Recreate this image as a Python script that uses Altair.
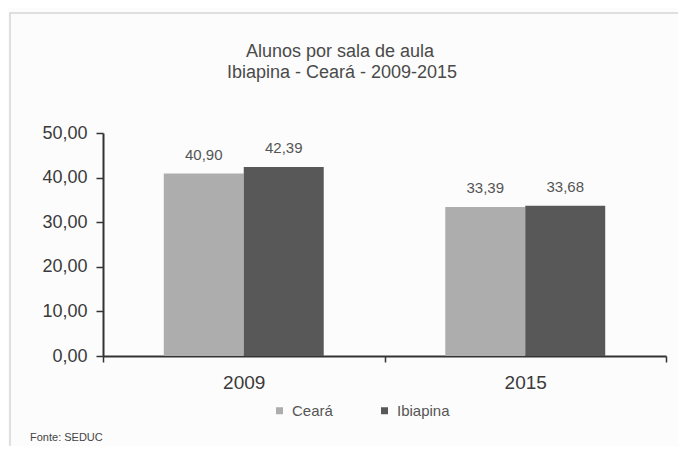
import altair as alt
import pandas as pd

anos = ["2009", "2009", "2015", "2015"]
series = ["Ceará", "Ibiapina", "Ceará", "Ibiapina"]
valores = [40.90, 42.39, 33.39, 33.68]
rotulos = ["40,90", "42,39", "33,39", "33,68"]
ordem_series = ["Ceará", "Ibiapina"]
cores = ["#adadad", "#585858"]
titulo = ["Alunos por sala de aula", "Ibiapina - Ceará - 2009-2015"]

df = pd.DataFrame({"ano": anos, "serie": series, "valor": valores, "rotulo": rotulos})

FONT = "Liberation Sans"

x_enc = alt.X(
    "ano:N",
    scale=alt.Scale(paddingInner=0, paddingOuter=0),
    axis=alt.Axis(
        title=None, labelAngle=0, tickBand="extent", labelFontSize=19,
        labelColor="#3a3a3a", labelPadding=11, tickSize=6, tickColor="#333",
        domainColor="#333", domainWidth=2, tickWidth=1.5, labelFont=FONT,
    ),
)
xoff = alt.XOffset("serie:N", sort=ordem_series,
                   scale=alt.Scale(paddingInner=0, paddingOuter=0.76))
y_enc = alt.Y(
    "valor:Q",
    scale=alt.Scale(domain=[0, 50], nice=False),
    axis=alt.Axis(
        title=None, values=[0, 10, 20, 30, 40, 50], grid=False,
        labelExpr="replace(format(datum.value, '.2f'), '.', ',')",
        labelFontSize=18, labelColor="#3a3a3a", labelPadding=9, tickSize=7,
        tickColor="#333", domainColor="#333", domainWidth=2, tickWidth=1.5,
        labelFont=FONT,
    ),
)

bars = alt.Chart(df).mark_bar().encode(
    x=x_enc, xOffset=xoff, y=y_enc,
    color=alt.Color(
        "serie:N", sort=ordem_series,
        scale=alt.Scale(domain=ordem_series, range=cores),
        legend=alt.Legend(
            orient="none", legendX=169, legendY=270, direction="horizontal",
            title=None, symbolType="square", symbolSize=49, symbolStrokeWidth=0,
            labelFontSize=15, labelColor="#555", labelFont=FONT,
            columnPadding=44, labelOffset=5,
        ),
    ),
)

texts = alt.Chart(df).mark_text(dy=-19, fontSize=15, color="#555", font=FONT).encode(
    x=alt.X("ano:N"), xOffset=alt.XOffset("serie:N", sort=ordem_series), y="valor:Q",
    text="rotulo:N",
)

frame = alt.Chart(pd.DataFrame({"a": [0]})).mark_rect(
    fill=None, stroke="#d5d5d5", strokeWidth=1.5
).encode(x=alt.value(-93), x2=alt.value(600), y=alt.value(-120), y2=alt.value(330))

fonte = alt.Chart(pd.DataFrame({"t": ["Fonte: SEDUC"]})).mark_text(
    align="left", baseline="middle", fontSize=11, color="#444", font=FONT
).encode(x=alt.value(-73), y=alt.value(305), text="t:N")

tit1 = alt.Chart(pd.DataFrame({"t": [titulo[0]]})).mark_text(
    align="center", baseline="middle", fontSize=18, color="#4a4a4a", font=FONT
).encode(x=alt.value(237), y=alt.value(-81), text="t:N")
tit2 = alt.Chart(pd.DataFrame({"t": [titulo[1]]})).mark_text(
    align="center", baseline="middle", fontSize=18, color="#4a4a4a", font=FONT
).encode(x=alt.value(239), y=alt.value(-60), text="t:N")

chart = alt.layer(frame, bars, texts, fonte, tit1, tit2).properties(
    width=563, height=223,
    autosize=alt.AutoSizeParams(type="none"),
    padding={"left": 95, "top": 125, "right": 12, "bottom": 90},
    background="#fcfcfc",
).resolve_scale(xOffset="shared").configure_view(stroke=None)

chart.save("out.html", embed_options={"renderer": "svg", "actions": False})
